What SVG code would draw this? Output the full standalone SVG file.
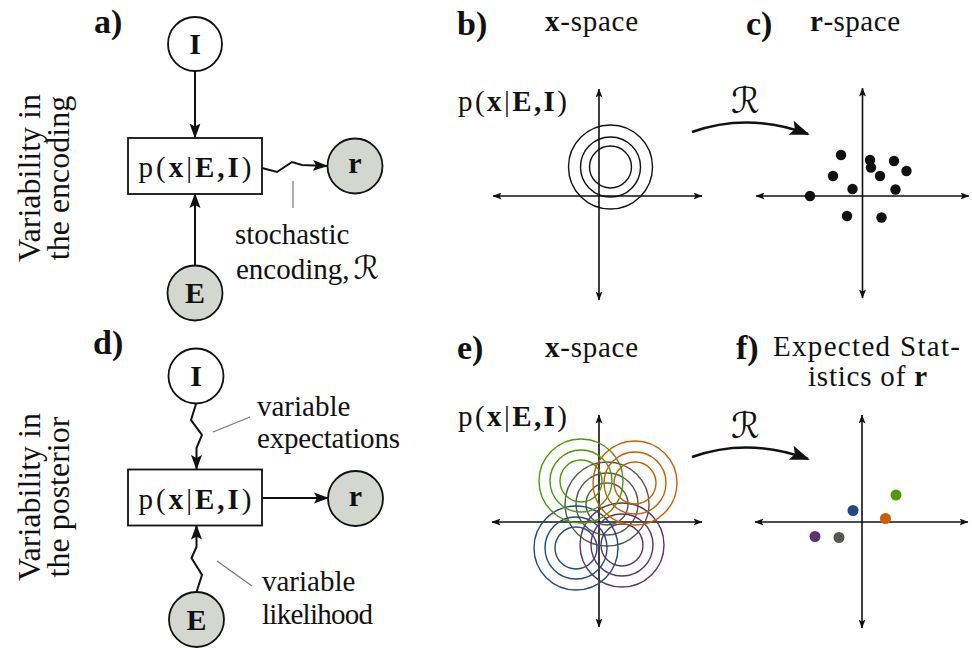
<svg xmlns="http://www.w3.org/2000/svg" width="972" height="648" viewBox="0 0 972 648">
<style>
text { font-family: "Liberation Serif", "Times New Roman", serif; fill: #111; }
.t { font-size: 29px; }
.b { font-weight: bold; }
.lbl { font-size: 34px; font-weight: bold; }
.vert { font-size: 32px; text-anchor: middle; }
.nl { font-size: 30px; font-weight: bold; text-anchor: middle; }
.cal { font-family: "DejaVu Sans", sans-serif; font-weight: normal; }
.node { stroke: #111; stroke-width: 1.8; }
.open { fill: #ffffff; }
.obs { fill: #d3d7cf; }
.box { fill: #ffffff; stroke: #111; stroke-width: 1.8; }
.edge { fill: none; stroke: #111; stroke-width: 2; marker-end: url(#ah); }
.lead { fill: none; stroke: #777; stroke-width: 1.2; }
.axis { fill: none; stroke: #111; stroke-width: 1.6; marker-start: url(#ax); marker-end: url(#ax); }
.bigarr { fill: none; stroke: #111; stroke-width: 2.4; marker-end: url(#big); }
.ring { fill: none; stroke-width: 1.4; }
</style>
<defs>
<marker id="ah" markerUnits="userSpaceOnUse" viewBox="0 0 15 12" markerWidth="15" markerHeight="12" refX="14" refY="6" orient="auto">
<path d="M0,0.5 L15,6 L0,11.5 L3,6 z" fill="#111"/>
</marker>
<marker id="ax" markerUnits="userSpaceOnUse" viewBox="0 0 9 7" markerWidth="9" markerHeight="7" refX="8.5" refY="3.5" orient="auto-start-reverse">
<path d="M0,0 L9,3.5 L0,7 L2,3.5 z" fill="#111"/>
</marker>
<marker id="big" markerUnits="userSpaceOnUse" viewBox="0 0 20 15" markerWidth="20" markerHeight="15" refX="18" refY="7.5" orient="auto">
<path d="M0,0 L20,7.5 L0,15 L4,7.5 z" fill="#111"/>
</marker>
</defs>

<!-- row labels -->
<g id="row-labels">
<text class="vert" transform="translate(40,178) rotate(-90)">Variability in</text>
<text class="vert" transform="translate(69,178) rotate(-90)">the encoding</text>
<text class="vert" transform="translate(40,497) rotate(-90)">Variability in</text>
<text class="vert" transform="translate(69,497) rotate(-90)">the posterior</text>
</g>

<!-- panel labels -->
<g id="panel-labels">
<text class="lbl" x="94" y="33">a)</text>
<text class="lbl" x="457" y="35">b)</text>
<text class="lbl" x="746" y="35">c)</text>
<text class="lbl" x="93" y="354">d)</text>
<text class="lbl" x="457" y="359">e)</text>
<text class="lbl" x="736" y="359">f)</text>
</g>

<g id="headers">
<text class="t" x="545" y="31" textLength="93"><tspan class="b">x</tspan>-space</text>
<text class="t" x="810" y="31" textLength="90"><tspan class="b">r</tspan>-space</text>
<text class="t" x="545" y="357" textLength="93"><tspan class="b">x</tspan>-space</text>
<text class="t" x="773" y="356" textLength="187">Expected Stat-</text>
<text class="t" x="808" y="386" textLength="119">istics of <tspan class="b">r</tspan></text>
</g>

<!-- connectors -->
<g id="connectors">
<line class="edge" x1="195" y1="71" x2="195" y2="137.5"/>
<line class="edge" x1="195" y1="265" x2="195" y2="194"/>
<polyline class="edge" points="262,168 277,172 292,162 302,165 327,166"/>
<polyline class="edge" points="196,404 191,420 202,435 196.5,448 196.5,469"/>
<polyline class="edge" points="196.5,592 202,575 191.5,558 196.5,547 196.5,525.5"/>
<line class="edge" x1="262" y1="498" x2="328" y2="498"/>
<line class="lead" x1="293" y1="181" x2="293" y2="208"/>
<line class="lead" x1="213" y1="432" x2="250" y2="417"/>
<line class="lead" x1="217" y1="561" x2="252" y2="586"/>
</g>

<!-- panel a nodes -->
<g id="a-I"><circle class="node open" cx="195" cy="44" r="27"/><text class="nl" x="195" y="54">I</text></g>
<g id="a-pxEI"><rect class="box" x="128" y="138" width="134" height="56"/>
<text class="t" x="195" y="177" text-anchor="middle" font-size="31" textLength="113">p(<tspan class="b">x</tspan>|<tspan class="b">E,I</tspan>)</text></g>
<g id="a-r"><circle class="node obs" cx="355" cy="166" r="27.5"/><text class="nl" x="355" y="173">r</text></g>
<g id="a-E"><circle class="node obs" cx="195" cy="293" r="27.5"/><text class="nl" x="195" y="303">E</text></g>
<g id="a-note">
<text class="t" x="235" y="244">stochastic</text>
<text class="t" x="236" y="279">encoding,<tspan class="cal" font-size="32" dx="4">ℛ</tspan></text>
</g>

<!-- panel d nodes -->
<g id="d-I"><circle class="node open" cx="196" cy="376" r="27.5"/><text class="nl" x="196" y="386">I</text></g>
<g id="d-pxEI"><rect class="box" x="128" y="469.5" width="134" height="56"/>
<text class="t" x="195" y="508.5" text-anchor="middle" font-size="31" textLength="113">p(<tspan class="b">x</tspan>|<tspan class="b">E,I</tspan>)</text></g>
<g id="d-r"><circle class="node obs" cx="355.5" cy="498.5" r="27.5"/><text class="nl" x="355.5" y="505.5">r</text></g>
<g id="d-E"><circle class="node obs" cx="196.5" cy="619.5" r="27.5"/><text class="nl" x="196.5" y="629.5">E</text></g>
<g id="d-notes">
<text class="t" x="257" y="416">variable</text>
<text class="t" x="257" y="448" textLength="143">expectations</text>
<text class="t" x="262" y="591">variable</text>
<text class="t" x="262" y="624" textLength="111">likelihood</text>
</g>

<!-- panel b -->
<g id="panel-b">
<text class="t" x="458" y="111" font-size="31" textLength="109">p(<tspan class="b">x</tspan>|<tspan class="b">E,I</tspan>)</text>
<line class="axis" x1="599" y1="89" x2="599" y2="300"/>
<line class="axis" x1="493" y1="196" x2="702" y2="196"/>
<g class="ring" stroke="#111">
<circle cx="610.5" cy="167" r="42"/>
<circle cx="610.5" cy="167" r="30"/>
<circle cx="610.5" cy="167" r="21"/>
</g>
</g>

<!-- arrow b to c -->
<g id="map-bc">
<path class="bigarr" d="M692,132 Q748,112 808,134"/>
<text class="cal" x="731" y="113" font-size="36">ℛ</text>
</g>

<!-- panel c -->
<g id="panel-c">
<line class="axis" x1="862.5" y1="88" x2="862.5" y2="298"/>
<line class="axis" x1="756" y1="196" x2="969" y2="196"/>
<g fill="#111">
<circle cx="841" cy="155" r="5.2"/>
<circle cx="870" cy="160" r="5.2"/>
<circle cx="871" cy="167.5" r="5.2"/>
<circle cx="894" cy="161" r="5.2"/>
<circle cx="906.5" cy="171" r="5.2"/>
<circle cx="833" cy="176" r="5.2"/>
<circle cx="880" cy="176" r="5.2"/>
<circle cx="852.5" cy="189" r="5.2"/>
<circle cx="895.5" cy="189.5" r="5.2"/>
<circle cx="810" cy="196" r="5.2"/>
<circle cx="847" cy="216" r="5.2"/>
<circle cx="881.5" cy="217.5" r="5.2"/>
</g>
</g>

<!-- panel e -->
<g id="panel-e">
<text class="t" x="458" y="426" font-size="31" textLength="109">p(<tspan class="b">x</tspan>|<tspan class="b">E,I</tspan>)</text>
<line class="axis" x1="599" y1="415" x2="599" y2="627"/>
<line class="axis" x1="492" y1="522" x2="702" y2="522"/>
<g class="ring" stroke="#555753">
<circle cx="607" cy="504" r="42"/><circle cx="607" cy="504" r="31"/><circle cx="607" cy="504" r="21"/>
</g>
<g class="ring" stroke="#204a87">
<circle cx="576" cy="548" r="42"/><circle cx="576" cy="548" r="31"/><circle cx="576" cy="548" r="21"/>
</g>
<g class="ring" stroke="#5c3566">
<circle cx="622" cy="545" r="42"/><circle cx="622" cy="545" r="31"/><circle cx="622" cy="545" r="21"/>
</g>
<g class="ring" stroke="#4e9a06">
<circle cx="581" cy="481" r="42"/><circle cx="581" cy="481" r="31"/><circle cx="581" cy="481" r="21"/>
</g>
<g class="ring" stroke="#ce5c00">
<circle cx="635" cy="483" r="42"/><circle cx="635" cy="483" r="31"/><circle cx="635" cy="483" r="21"/>
</g>
</g>

<!-- arrow e to f -->
<g id="map-ef">
<path class="bigarr" d="M692,457 Q748,437 808,459"/>
<text class="cal" x="731" y="438" font-size="36">ℛ</text>
</g>

<!-- panel f -->
<g id="panel-f">
<line class="axis" x1="862" y1="415" x2="862" y2="628"/>
<line class="axis" x1="755" y1="522" x2="968" y2="522"/>
<circle cx="896" cy="495" r="5.5" fill="#4e9a06"/>
<circle cx="853" cy="510.5" r="5.5" fill="#204a87"/>
<circle cx="885.5" cy="518.5" r="5.5" fill="#ce5c00"/>
<circle cx="815" cy="536.5" r="5.5" fill="#5c3566"/>
<circle cx="839" cy="537.5" r="5.5" fill="#555753"/>
</g>
</svg>
